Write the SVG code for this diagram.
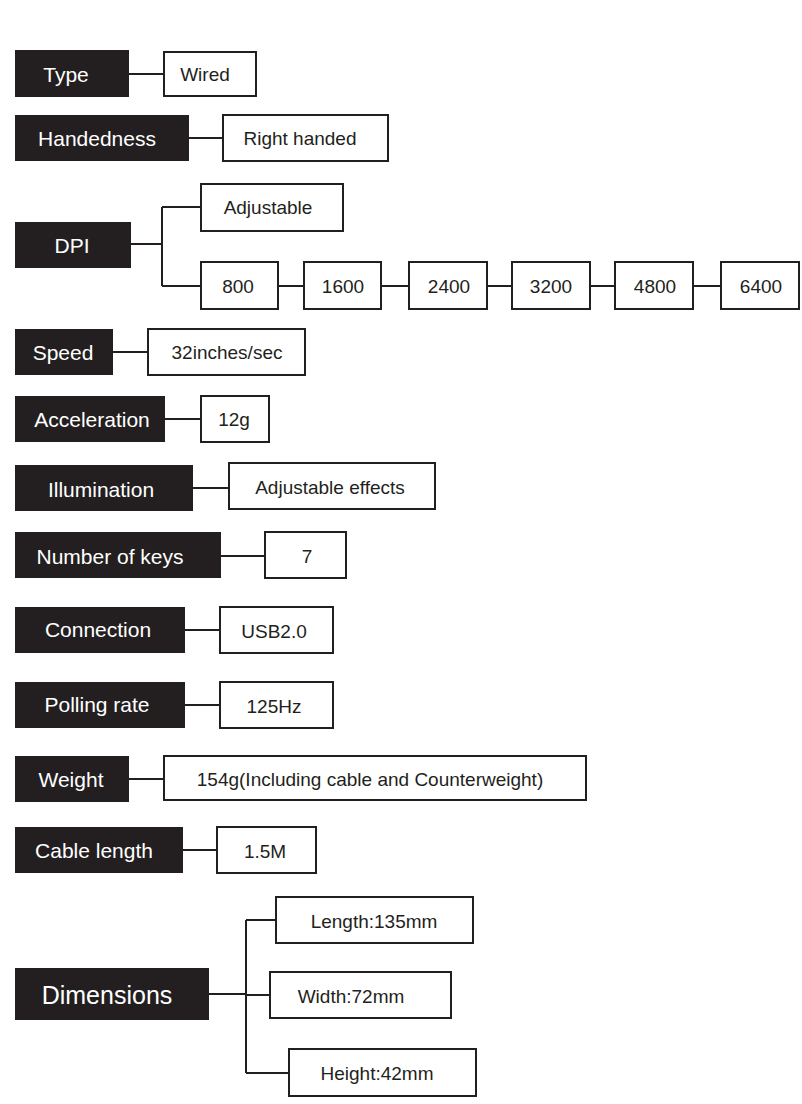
<svg xmlns="http://www.w3.org/2000/svg" width="802" height="1104" viewBox="0 0 802 1104">
<style>
.k{fill:#231f20}
.kt{fill:#fff;font-family:"Liberation Sans",Arial,sans-serif;font-size:21px;text-anchor:middle;dominant-baseline:central}
.v{fill:#fff;stroke:#231f20;stroke-width:2}
.vt{fill:#231f20;font-family:"Liberation Sans",Arial,sans-serif;font-size:19px;text-anchor:middle;dominant-baseline:central}
.c{fill:none;stroke:#231f20;stroke-width:2}
</style>
<rect width="802" height="1104" fill="#fff"/>
<g id="connectors">
<path class="c" d="M129 74H164M189 138H223M131 244H162M162 207V286M162 207H201M162 286H201M278 286H304M381 286H409M487 286H512M590 286H615M693 286H721M113 352H148M165 419H201M193 488H229M221 556H265M185 630H220M185 705H220M129 779H164M183 850H217M209 994H246M246 920V1073M246 920H276M246 995H270M246 1073H289"/>
</g>
<g id="type"><rect class="k" x="15" y="50" width="114" height="47"/><text class="kt" x="66" y="74">Type</text></g>
<g id="wired"><rect class="v" x="164" y="52" width="92" height="44"/><text class="vt" x="205" y="74">Wired</text></g>
<g id="handedness"><rect class="k" x="15" y="115" width="174" height="46"/><text class="kt" x="97" y="138">Handedness</text></g>
<g id="right"><rect class="v" x="223" y="115" width="165" height="46"/><text class="vt" x="300" y="138">Right handed</text></g>
<g id="dpi"><rect class="k" x="15" y="222" width="116" height="46"/><text class="kt" x="72" y="245">DPI</text></g>
<g id="adjustable"><rect class="v" x="201" y="184" width="142" height="47"/><text class="vt" x="268" y="207">Adjustable</text></g>
<g id="d800"><rect class="v" x="201" y="262" width="77" height="47"/><text class="vt" x="238" y="286">800</text></g>
<g id="d1600"><rect class="v" x="304" y="262" width="77" height="47"/><text class="vt" x="343" y="286">1600</text></g>
<g id="d2400"><rect class="v" x="409" y="262" width="78" height="47"/><text class="vt" x="449" y="286">2400</text></g>
<g id="d3200"><rect class="v" x="512" y="262" width="78" height="47"/><text class="vt" x="551" y="286">3200</text></g>
<g id="d4800"><rect class="v" x="615" y="262" width="78" height="47"/><text class="vt" x="655" y="286">4800</text></g>
<g id="d6400"><rect class="v" x="721" y="262" width="78" height="47"/><text class="vt" x="761" y="286">6400</text></g>
<g id="speed"><rect class="k" x="15" y="329" width="98" height="46"/><text class="kt" x="63" y="352">Speed</text></g>
<g id="speedv"><rect class="v" x="148" y="329" width="157" height="46"/><text class="vt" x="227" y="352">32inches/sec</text></g>
<g id="accel"><rect class="k" x="15" y="396" width="150" height="46"/><text class="kt" x="92" y="419">Acceleration</text></g>
<g id="accelv"><rect class="v" x="201" y="396" width="68" height="46"/><text class="vt" x="234" y="419">12g</text></g>
<g id="illum"><rect class="k" x="15" y="465" width="178" height="46"/><text class="kt" x="101" y="489">Illumination</text></g>
<g id="illumv"><rect class="v" x="229" y="463" width="206" height="46"/><text class="vt" x="330" y="487">Adjustable effects</text></g>
<g id="keys"><rect class="k" x="15" y="532" width="206" height="46"/><text class="kt" x="110" y="556">Number of keys</text></g>
<g id="keysv"><rect class="v" x="265" y="532" width="81" height="46"/><text class="vt" x="307" y="556">7</text></g>
<g id="conn"><rect class="k" x="15" y="607" width="170" height="46"/><text class="kt" x="98" y="629">Connection</text></g>
<g id="connv"><rect class="v" x="220" y="607" width="113" height="46"/><text class="vt" x="274" y="631">USB2.0</text></g>
<g id="poll"><rect class="k" x="15" y="682" width="170" height="46"/><text class="kt" x="97" y="704">Polling rate</text></g>
<g id="pollv"><rect class="v" x="220" y="682" width="113" height="46"/><text class="vt" x="274" y="706">125Hz</text></g>
<g id="weight"><rect class="k" x="15" y="756" width="114" height="46"/><text class="kt" x="71" y="779">Weight</text></g>
<g id="weightv"><rect class="v" x="164" y="756" width="422" height="44"/><text class="vt" x="370" y="779">154g(Including cable and Counterweight)</text></g>
<g id="cable"><rect class="k" x="15" y="827" width="168" height="46"/><text class="kt" x="94" y="850">Cable length</text></g>
<g id="cablev"><rect class="v" x="217" y="827" width="99" height="46"/><text class="vt" x="265" y="851">1.5M</text></g>
<g id="dim"><rect class="k" x="15" y="968" width="194" height="52"/><text class="kt" x="107" y="995" style="font-size:25px">Dimensions</text></g>
<g id="len"><rect class="v" x="276" y="897" width="197" height="46"/><text class="vt" x="374" y="921">Length:135mm</text></g>
<g id="wid"><rect class="v" x="270" y="972" width="181" height="46"/><text class="vt" x="351" y="996">Width:72mm</text></g>
<g id="hei"><rect class="v" x="289" y="1049" width="187" height="47"/><text class="vt" x="377" y="1073">Height:42mm</text></g>
</svg>
